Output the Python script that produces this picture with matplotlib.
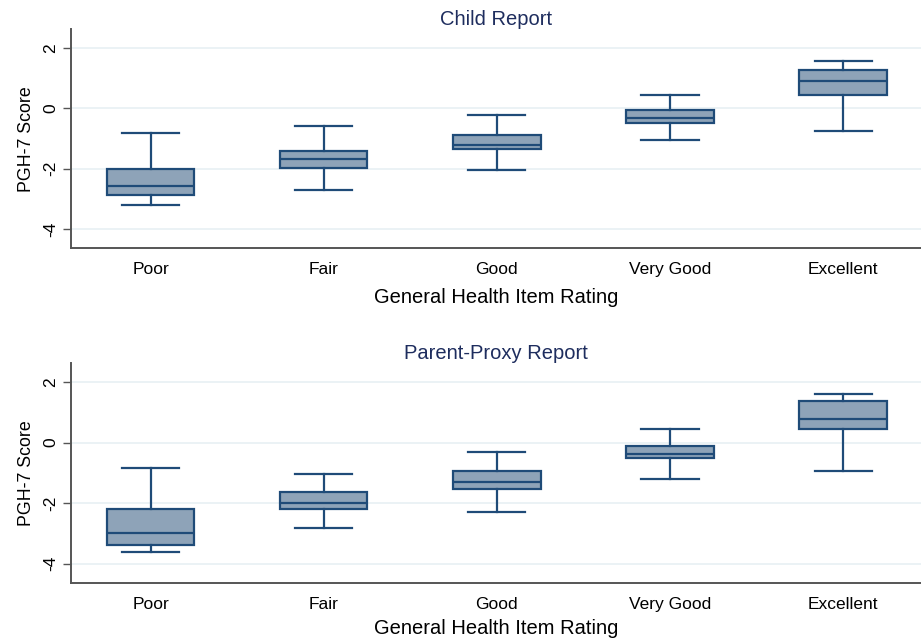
import matplotlib
matplotlib.use("Agg")
import matplotlib.pyplot as plt

categories = ["Poor", "Fair", "Good", "Very Good", "Excellent"]

# Child report: lower whisker, Q1, median, Q3, upper whisker
child_whislo = [-3.19, -2.72, -2.05, -1.04, -0.74]
child_q1     = [-2.87, -1.98, -1.34, -0.49, 0.44]
child_med    = [-2.57, -1.69, -1.23, -0.33, 0.89]
child_q3     = [-2.01, -1.41, -0.89, -0.07, 1.27]
child_whishi = [-0.81, -0.58, -0.23, 0.44, 1.57]

# Parent-proxy report
parent_whislo = [-3.60, -2.81, -2.30, -1.19, -0.93]
parent_q1     = [-3.39, -2.20, -1.53, -0.52, 0.44]
parent_med    = [-2.98, -2.00, -1.31, -0.39, 0.77]
parent_q3     = [-2.20, -1.64, -0.94, -0.12, 1.38]
parent_whishi = [-0.85, -1.04, -0.32, 0.46, 1.59]

titles = ["Child Report", "Parent-Proxy Report"]
yticks = [2, 0, -2, -4]
xlabel = "General Health Item Rating"
ylabel = "PGH-7 Score"

plt.rcParams['font.family'] = ['Liberation Sans', 'DejaVu Sans']

fill_c = "#8ea3b8"
edge_c = "#1f4b78"
grid_c = "#e8f0f3"
spine_c = "#555555"
title_c = "#1e2d5e"

fig = plt.figure(figsize=(9.21, 6.40), dpi=100)
positions = [
    [71/921, 1-248.3/640, (921-71)/921, (248.3-29.3)/640],
    [71/921, 1-583/640, (921-71)/921, (583-363.3)/640],
]
datasets = [
    (child_whislo, child_q1, child_med, child_q3, child_whishi),
    (parent_whislo, parent_q1, parent_med, parent_q3, parent_whishi),
]
xlabelpads = [8, 5]

for pos, data, title, lp in zip(positions, datasets, titles, xlabelpads):
    ax = fig.add_axes(pos)
    lo, q1, med, q3, hi = data
    stats = []
    for i, cat in enumerate(categories):
        stats.append(dict(whislo=lo[i], q1=q1[i], med=med[i], q3=q3[i],
                          whishi=hi[i], label=cat, fliers=[]))
    ax.bxp(stats, positions=range(1, 6), widths=0.505, patch_artist=True,
           showfliers=False, capwidths=0.33,
           boxprops=dict(facecolor=fill_c, edgecolor=edge_c, linewidth=1.6),
           medianprops=dict(color=edge_c, linewidth=1.6),
           whiskerprops=dict(color=edge_c, linewidth=1.6),
           capprops=dict(color=edge_c, linewidth=1.6))
    ax.set_xlim(0.54, 5.45)
    ax.set_ylim(-4.64, 2.62)
    ax.set_yticks(yticks)
    ax.set_yticklabels([str(t) for t in yticks], rotation=90, va='center',
                       fontsize=12.5)
    ax.grid(axis='y', color=grid_c, linewidth=1.2)
    ax.set_axisbelow(True)
    ax.tick_params(axis='y', length=6, width=1, color=spine_c, pad=3)
    ax.tick_params(axis='x', length=0, pad=10, labelsize=12.5)
    for s in ['top', 'right']:
        ax.spines[s].set_visible(False)
    for s in ['left', 'bottom']:
        ax.spines[s].set_color(spine_c)
        ax.spines[s].set_linewidth(1.4)
    ax.set_title(title, color=title_c, fontsize=14.5, pad=2)
    ax.set_xlabel(xlabel, fontsize=14.5, labelpad=lp)
    ax.set_ylabel(ylabel, fontsize=12.8, labelpad=6)

fig.savefig("out.png", dpi=100)
